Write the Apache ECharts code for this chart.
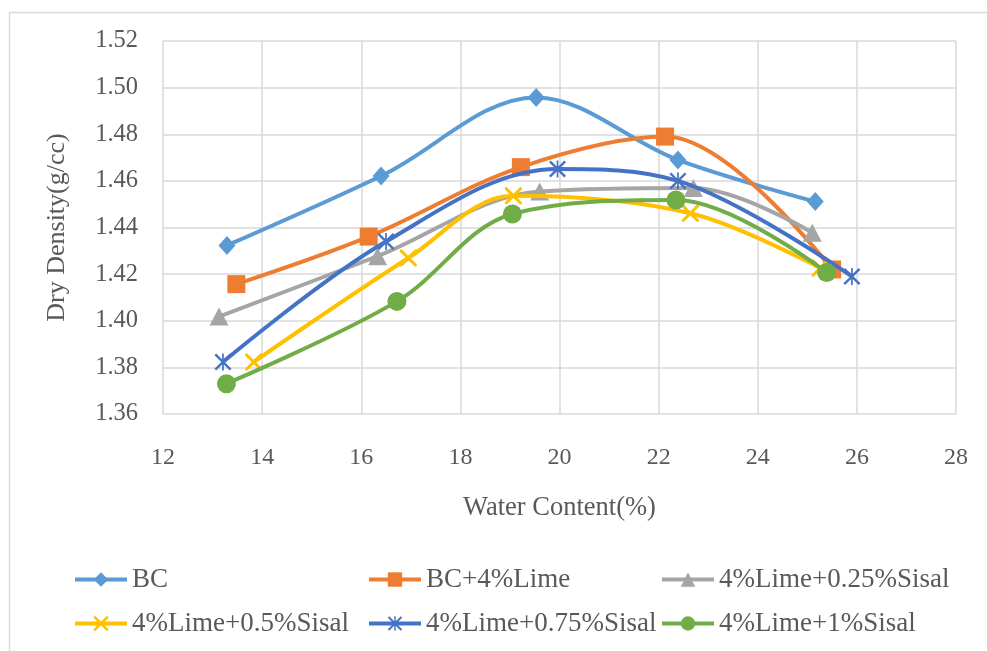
<!DOCTYPE html>
<html>
<head>
<meta charset="utf-8">
<script src="https://cdn.jsdelivr.net/npm/echarts@6/dist/echarts.min.js"></script>
<style>
html,body{margin:0;padding:0;background:#fff;}
#chart{width:987px;height:651px;}
</style>
</head>
<body>
<div id="chart"></div>
<script>
// Data: [water content %, dry density g/cc]
const seriesNames = ['BC', 'BC+4%Lime', '4%Lime+0.25%Sisal', '4%Lime+0.5%Sisal', '4%Lime+0.75%Sisal', '4%Lime+1%Sisal'];
const bc        = [[13.29, 1.4323], [16.40, 1.4621], [19.53, 1.4958], [22.39, 1.4690], [25.16, 1.4511]];
const bcLime    = [[13.48, 1.4157], [16.15, 1.4361], [19.22, 1.4659], [22.13, 1.4790], [25.50, 1.4220]];
const sisal025  = [[13.13, 1.4018], [16.33, 1.4277], [19.60, 1.4554], [22.70, 1.4569], [25.10, 1.4378]];
const sisal050  = [[13.83, 1.3823], [16.95, 1.4269], [19.07, 1.4536], [22.64, 1.4461], [25.26, 1.4226]];
const sisal075  = [[13.21, 1.3823], [16.50, 1.4340], [19.96, 1.4651], [22.39, 1.4600], [25.90, 1.4190]];
const sisal100  = [[13.28, 1.3730], [16.72, 1.4083], [19.05, 1.4458], [22.35, 1.4518], [25.39, 1.4207]];
const xTicks = { min: 12, max: 28, interval: 2 };
const yTicks = { min: 1.36, max: 1.52, interval: 0.02 };

const colors = ['#5B9BD5', '#ED7D31', '#A5A5A5', '#FFC000', '#4472C4', '#70AD47'];
const xPath = 'path://M0,0 L2.5,0 L10,7.5 L17.5,0 L20,0 L20,2.5 L12.5,10 L20,17.5 L20,20 L17.5,20 L10,12.5 L2.5,20 L0,20 L0,17.5 L7.5,10 L0,2.5 Z';
const starPath = 'path://M0,2 L2,0 L10,8 L18,0 L20,2 L12,10 L20,18 L18,20 L10,12 L2,20 L0,18 L8,10 Z M9,0 L11,0 L11,20 L9,20 Z';
const symbols = ['diamond', 'rect', 'triangle', xPath, starPath, 'circle'];
const symbolSizes = [[17, 19], 18, [19, 18], 17, 17, 19];
const dataSets = [bc, bcLime, sisal025, sisal050, sisal075, sisal100];

const font = '"Liberation Serif", "Times New Roman", serif';
const textColor = '#595959';

const series = seriesNames.map((name, i) => ({
  name: name,
  type: 'line',
  data: dataSets[i],
  smooth: 0.35,
  symbol: symbols[i],
  symbolSize: symbolSizes[i],
  showAllSymbol: true,
  lineStyle: { color: colors[i], width: 4 },
  itemStyle: { color: colors[i], borderWidth: 0 },
  emphasis: { disabled: true },
  z: 2 + i
}));

const legendText = { fontFamily: font, fontSize: 27, color: textColor };
function legendCol(left, names) {
  return {
    orient: 'vertical', left: left, top: 566, itemGap: 17, padding: 0,
    itemWidth: 52, itemHeight: 18, selectedMode: false,
    lineStyle: { width: 4 },
    textStyle: legendText, data: names
  };
}

const chart = echarts.init(document.getElementById('chart'), null, { renderer: 'canvas' });
chart.setOption({
  animation: false,
  color: colors,
  textStyle: { fontFamily: font },
  graphic: [{
    type: 'rect', shape: { x: 9.5, y: 12.5, width: 1000, height: 700 },
    style: { fill: 'none', stroke: '#D9D9D9', lineWidth: 1.5 }, silent: true
  }],
  grid: { left: 163, right: 31, top: 41, bottom: 237, containLabel: false },
  xAxis: {
    type: 'value', min: xTicks.min, max: xTicks.max, interval: xTicks.interval,
    name: 'Water Content(%)', nameLocation: 'middle', nameGap: 81,
    nameTextStyle: { fontFamily: font, fontSize: 26.5, color: textColor },
    axisLine: { show: false }, axisTick: { show: false },
    axisLabel: { fontFamily: font, fontSize: 24, color: textColor, margin: 32 },
    splitLine: { show: true, lineStyle: { color: '#D9D9D9', width: 1.5 } }
  },
  yAxis: {
    type: 'value', min: yTicks.min, max: yTicks.max, interval: yTicks.interval,
    name: 'Dry Density(g/cc)', nameLocation: 'middle', nameGap: 93, nameRotate: 90,
    nameTextStyle: { fontFamily: font, fontSize: 26, color: textColor },
    axisLine: { show: false }, axisTick: { show: false },
    axisLabel: { fontFamily: font, fontSize: 24.5, color: textColor, margin: 25,
      formatter: v => v.toFixed(2) },
    splitLine: { show: true, lineStyle: { color: '#D9D9D9', width: 1.5 } }
  },
  legend: [
    legendCol(73, [seriesNames[0], seriesNames[3]]),
    legendCol(367, [seriesNames[1], seriesNames[4]]),
    legendCol(660, [seriesNames[2], seriesNames[5]])
  ],
  series: series
});
</script>
</body>
</html>
